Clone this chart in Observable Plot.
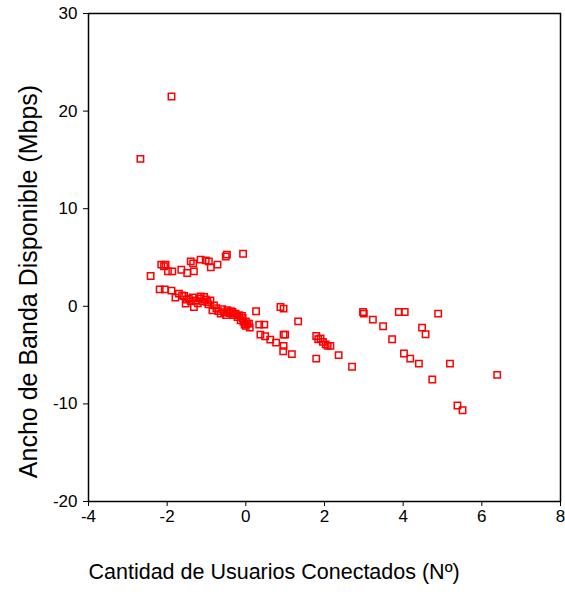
<!DOCTYPE html>
<html><head><meta charset="utf-8">
<script src="https://cdn.jsdelivr.net/npm/d3@7"></script>
<script src="https://cdn.jsdelivr.net/npm/@observablehq/plot@0.6"></script>
<style>body{margin:0;background:#fff}</style>
</head><body><div id="chart"></div>
<script>
const usuarios = [
  -2.68, -1.89, -2.42, -2.15, -2.04, -2.08, -1.98, -1.87, -1.64, -1.49, -1.40, -1.32, -1.34, -1.15, -1.02, -0.94, -0.89, -0.72, -0.51, -0.48, -0.07,
  -2.19, -2.06, -1.89, -1.79, -1.70, -1.62, -1.57, -1.53, -1.50, -1.45, -1.40, -1.35, -1.32, -1.28, -1.22, -1.18, -1.15, -1.10, -1.06, -1.02,
  -0.98, -0.95, -0.90, -0.85, -0.81, -0.75, -0.70, -0.64, -0.60, -0.55, -0.50, -0.47, -0.42, -0.38, -0.34, -0.30, -0.26, -0.21, -0.17, -0.13,
  -0.10, -0.08, -0.06, -0.03, 0.00, 0.04, 0.08, 0.10, 0.00,
  0.26, 0.34, 0.47, 0.37, 0.49, 0.62, 0.77, 0.88, 0.96, 0.96, 1.00, 0.96, 0.95, 1.17, 1.33,
  1.79, 1.84, 1.90, 1.96, 2.03, 2.08, 2.15, 1.79, 2.36, 2.70,
  2.98, 3.00, 3.23, 3.49, 3.72, 3.89, 4.04, 4.02, 4.18, 4.40, 4.48, 4.57, 4.89, 4.74, 5.19, 5.38, 5.51, 6.39
];
const anchoBanda = [
  15.1, 21.5, 3.1, 4.27, 4.27, 4.1, 3.58, 3.58, 3.75, 3.41, 4.6, 3.58, 4.4, 4.78, 4.7, 4.6, 4.0, 4.27, 5.1, 5.3, 5.39,
  1.74, 1.74, 1.6, 0.89, 1.3, 1.1, 1.05, 0.28, 0.7, 0.79, 0.5, 0.9, -0.07, 0.6, 0.3, 0.8, 1.02, 0.5, 0.95, 0.7,
  0.44, 0.2, 0.6, -0.41, 0.1, -0.2, -0.5, -0.75, -0.3, -0.6, -0.9, -0.41, -0.7, -0.5, -0.58, -0.9, -0.75, -1.09, -0.92, -1.43,
  -1.0, -1.2, -1.6, -1.88, -1.54, -1.77, -1.77, -2.18, -2.0,
  -0.51, -1.88, -1.88, -2.9, -3.07, -3.41, -3.72, -0.07, -0.24, -2.9, -2.9, -4.06, -4.6, -4.9, -1.54,
  -3.04, -3.38, -3.3, -3.65, -3.9, -4.06, -4.06, -5.36, -5.0, -6.2,
  -0.58, -0.75, -1.36, -2.05, -3.38, -0.58, -0.58, -4.84, -5.36, -5.87, -2.18, -2.87, -0.75, -7.5, -5.87, -10.17, -10.65, -7.03
];
const xTicks = [-4, -2, 0, 2, 4, 6, 8];
const yTicks = [-20, -10, 0, 10, 20, 30];
const xLabel = "Cantidad de Usuarios Conectados (Nº)";
const yLabel = "Ancho de Banda Disponible (Mbps)";

const data = usuarios.map((x, i) => ({x, y: anchoBanda[i]}));

const chart = Plot.plot({
  width: 565, height: 592,
  marginLeft: 88, marginRight: 5, marginTop: 13, marginBottom: 91,
  style: {fontFamily: "'Liberation Sans', Arial, sans-serif", fontSize: "17px", background: "white", color: "black"},
  x: {domain: [-4, 8], label: null},
  y: {domain: [-20, 30], label: null},
  marks: [
    Plot.axisX({ticks: xTicks, tickSize: 5, tickPadding: 3, tickFormat: d => String(d), label: null, fontSize: 17}),
    Plot.axisY({ticks: yTicks, tickSize: 5, tickPadding: 6, tickFormat: d => String(d), label: null, fontSize: 17}),
    Plot.frame({stroke: "black", strokeWidth: 1.5}),
    Plot.dot(data, {x: "x", y: "y", symbol: "square", r: 3.6, stroke: "#ff0000", strokeWidth: 1.5, fill: "none"}),
    Plot.text([xLabel], {text: d => d, frameAnchor: "bottom-left", textAnchor: "start", dy: 77, fontSize: 21.5}),
    Plot.text([yLabel], {text: d => d, frameAnchor: "left", textAnchor: "middle", rotate: -90, dx: -60, dy: 24, fontSize: 25})
  ]
});
document.getElementById("chart").appendChild(chart);
</script>
</body></html>
